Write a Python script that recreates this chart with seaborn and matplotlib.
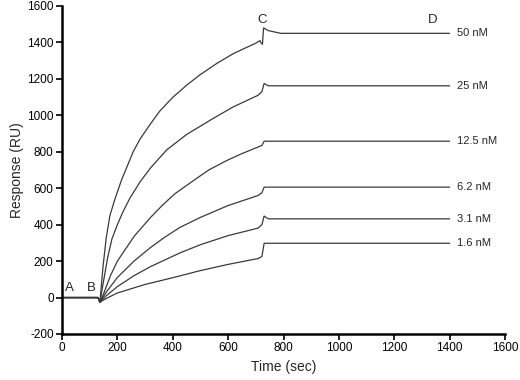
import numpy as np
import pandas as pd
import matplotlib
matplotlib.use("Agg")
import matplotlib.pyplot as plt
import seaborn as sns

sns.set_style("ticks")
plt.rcParams['font.family'] = ['Liberation Sans', 'DejaVu Sans']
plt.rcParams['axes.unicode_minus'] = False

concentrations = ["50 nM", "25 nM", "12.5 nM", "6.2 nM", "3.1 nM", "1.6 nM"]

baseline_t = [0, 130, 137]
baseline_r = [0, 0, -25]

t_50 = [148, 160, 173, 191, 215, 257, 282, 318, 354, 401, 450, 498, 558, 618, 660, 700, 715, 720, 724, 728, 745, 790, 1400]
r_50 = [168, 330, 450, 540, 645, 800, 870, 950, 1025, 1100, 1165, 1222, 1284, 1338, 1368, 1396, 1410, 1395, 1390, 1480, 1465, 1450, 1450]

t_25 = [150, 165, 180, 200, 220, 245, 282, 320, 378, 450, 546, 618, 708, 722, 730, 745, 1400]
r_25 = [90, 220, 320, 400, 470, 545, 635, 712, 810, 895, 983, 1046, 1110, 1130, 1175, 1162, 1162]

t_12 = [150, 175, 200, 260, 320, 365, 408, 473, 530, 595, 650, 708, 722, 730, 1400]
r_12 = [20, 120, 200, 335, 440, 510, 570, 640, 700, 752, 790, 826, 835, 858, 858]

t_6 = [160, 200, 260, 320, 370, 426, 500, 600, 708, 722, 730, 1400]
r_6 = [30, 110, 200, 275, 330, 385, 440, 505, 560, 575, 606, 606]

t_3 = [160, 200, 260, 320, 426, 500, 600, 708, 722, 730, 745, 1400]
r_3 = [10, 60, 120, 170, 245, 290, 340, 381, 400, 447, 432, 432]

t_1 = [160, 200, 300, 408, 500, 600, 650, 708, 722, 730, 1400]
r_1 = [-5, 25, 72, 112, 148, 182, 197, 214, 225, 298, 298]

plateaus = [1450, 1162, 858, 606, 432, 298]

series_t = [t_50, t_25, t_12, t_6, t_3, t_1]
series_r = [r_50, r_25, r_12, r_6, r_3, r_1]

rows = []
for c, ts, rs in zip(concentrations, series_t, series_r):
    for t, r in zip(baseline_t + ts, baseline_r + rs):
        rows.append({"Time": t, "Response": r, "conc": c})
df = pd.DataFrame(rows)

fig = plt.figure(figsize=(5.2, 3.8), dpi=100)
ax = fig.add_axes([62/520, 1 - 334/380, (505 - 62)/520, (334 - 6)/380])

sns.lineplot(data=df, x="Time", y="Response", units="conc", estimator=None,
             sort=False, color="#3a3a3a", linewidth=0.9, ax=ax, legend=False)

ax.set_xlim(0, 1600)
ax.set_ylim(-200, 1600)
ax.set_xticks(range(0, 1601, 200))
ax.set_yticks(range(-200, 1601, 200))
ax.tick_params(axis="both", direction="out", length=4, width=1.2, labelsize=8.5, colors="black", pad=2)
for s in ["top", "right"]:
    ax.spines[s].set_visible(False)
for s in ["left", "bottom"]:
    ax.spines[s].set_linewidth(1.8)
    ax.spines[s].set_color("black")
ax.set_xlabel("Time (sec)", fontsize=10, labelpad=4)
ax.set_ylabel("Response (RU)", fontsize=10, labelpad=2)

for c, p in zip(concentrations, plateaus):
    ax.text(1425, p, c, fontsize=8, va="center", ha="left")

ax.text(28, 20, "A", fontsize=9.5, ha="center", va="bottom")
ax.text(105, 20, "B", fontsize=9.5, ha="center", va="bottom")
ax.text(722, 1490, "C", fontsize=9.5, ha="center", va="bottom")
ax.text(1340, 1490, "D", fontsize=9.5, ha="center", va="bottom")

fig.savefig("out.png", dpi=100)
